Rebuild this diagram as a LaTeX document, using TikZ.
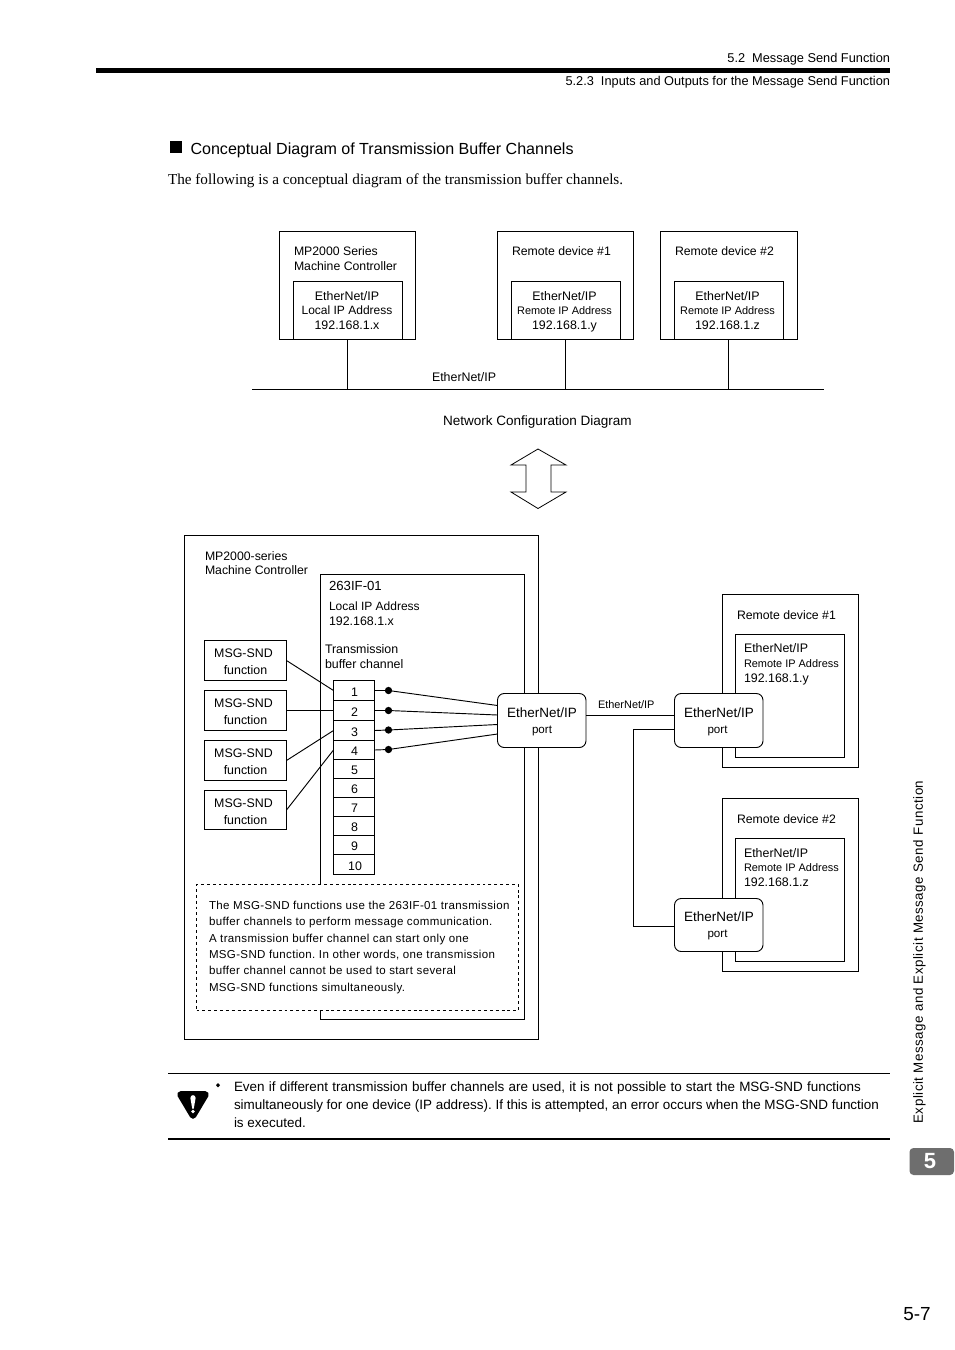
\documentclass[tikz,border=0pt]{standalone}
\usepackage{fontspec}
\setmainfont{Liberation Sans}
\newfontfamily\timesfont{Liberation Serif}
\newfontfamily\sidefont[LetterSpace=4]{Liberation Sans}
\newfontfamily\notefont[LetterSpace=3]{Liberation Sans}
\newcommand{\fsz}[1]{\fontsize{#1}{10.9}\selectfont}
\newcommand{\msgtxt}{\rule{0pt}{9pt}MSG-SND\hspace*{3pt}\\function}
\newcommand{\boxat}[7]{%
  \pgfmathsetmacro\bw{(#4-#2)*0.75}%
  \pgfmathsetmacro\bh{(#5-#3)*0.75}%
  \node[#6,minimum width=\bw pt,minimum height=\bh pt] (#1) at ({(#2+#4)/2},{(#3+#5)/2}) {#7};}
\tikzset{
  shp/.style={draw,line width=0.7pt,fill=white,inner sep=0pt,outer sep=0pt,align=center},
  msg/.style={shp,font=\fontsize{9.3}{12.8}\selectfont},
  cell/.style={shp,font=\fsz{9.3},text height=8.7pt},
  port/.style={shp,rounded corners=5pt},
  note/.style={shp,dash pattern=on 2.2pt off 2.2pt,line width=0.6pt},
  wire/.style={draw,line width=0.7pt},
  lab/.style={inner sep=0pt,outer sep=0pt,anchor=base west,font=\fsz{9.3}},
  labsm/.style={lab,font=\fsz{8.2}},
  ctr/.style={inner sep=0pt,outer sep=0pt,anchor=base,font=\fsz{9.3}},
  ctrsm/.style={ctr,font=\fsz{8.2}},
  ctrip/.style={ctr,font=\fsz{9.0}},
  portbig/.style={ctr,font=\fsz{10.1}},
  portsm/.style={ctr,font=\fsz{8.7}},
  devlab/.style={lab,font=\fsz{9.2}},
  notetxt/.style={lab,font=\notefont\fsz{8.65}},
  warn/.style={lab,font=\fsz{10.1}},
  hdr/.style={inner sep=0pt,outer sep=0pt,anchor=base east,font=\fsz{9.58}},
  dotn/.style={circle,fill=black,inner sep=0pt,minimum size=5.5pt,outer sep=0pt}
}
\begin{document}
\frenchspacing
\begin{tikzpicture}[x=0.75pt,y=-0.75pt]
\useasboundingbox (0,0) rectangle (954,1350);
\fill[white] (0,0) rectangle (954,1350);
% header
\node[hdr] (h1) at (890,62.5) {5.2\ \ Message Send Function};
\fill[black] (96,68) rectangle (890,73);
\node[hdr] (h2) at (890,85.5) {5.2.3\ \ Inputs and Outputs for the Message Send Function};
\fill[black] (170,141) rectangle (182,153);
\node[lab,font=\fsz{12.05}] (title) at (190.5,154) {Conceptual Diagram of Transmission Buffer Channels};
\node[lab,font=\timesfont\fsz{11.4}] (intro) at (168,184.5) {The following is a conceptual diagram of the transmission buffer channels.};
% network configuration
\boxat{ctrlA}{279.5}{231}{415.5}{339.5}{shp}{}
\boxat{ctrlB}{497.5}{231}{633.5}{339.5}{shp}{}
\boxat{ctrlC}{660.5}{231}{797.5}{339.5}{shp}{}
\boxat{ipA}{293}{281}{402}{339.5}{shp}{}
\boxat{ipB}{511}{281}{620}{339.5}{shp}{}
\boxat{ipC}{674}{281}{783}{339.5}{shp}{}
\node[ctr] (ipA1) at (347,300.5) {EtherNet/IP};
\node[ctrip] (ipA2) at (347,314.5) {Local IP Address};
\node[ctr] (ipA3) at (347,329.5) {192.168.1.x};
\node[ctr] (ipB1) at (564.5,300.5) {EtherNet/IP};
\node[ctrsm] (ipB2) at (564.5,314) {Remote IP Address};
\node[ctr] (ipB3) at (564.5,329.5) {192.168.1.y};
\node[ctr] (ipC1) at (727.5,300.5) {EtherNet/IP};
\node[ctrsm] (ipC2) at (727.5,314) {Remote IP Address};
\node[ctr] (ipC3) at (727.5,329.5) {192.168.1.z};
\node[devlab] (tA) at (294,255.5) {MP2000 Series};
\node[devlab] (tA2) at (294,270) {Machine Controller};
\node[devlab] (tB) at (512,255.5) {Remote device \#1};
\node[devlab] (tC) at (675,255.5) {Remote device \#2};
\coordinate (busL) at (252,389.5);
\coordinate (busR) at (824,389.5);
\draw[wire] (busL) -- (busR);
\draw[wire] (ipA.south) -- (ipA.south |- busL);
\draw[wire] (ipB.south) -- (ipB.south |- busL);
\draw[wire] (ipC.south) -- (ipC.south |- busL);
\node[lab] (busLab) at (432,381.5) {EtherNet/IP};
\node[lab,font=\fsz{10.15}] (netcap) at (443,425.5) {Network Configuration Diagram};
% double arrow
\draw[line width=0.6pt,line join=miter] (538,449) -- (511,465) -- (526,465) -- (526,492) -- (511,492) -- (538,508.5) -- (566,492) -- (551,492) -- (551,465) -- (566,465) -- cycle;
% controller
\boxat{outer}{184.5}{535.5}{538.5}{1039.5}{shp}{}
\boxat{mod}{320.5}{574.5}{524.5}{1019.5}{shp}{}
\node[devlab] (o1) at (205,560) {MP2000-series};
\node[devlab] (o2) at (205,574.5) {Machine Controller};
\node[lab,font=\fsz{9.9}] (m0) at (329,590.5) {263IF-01};
\node[lab,font=\fsz{9.0}] (m1) at (329,610) {Local IP Address};
\node[lab] (m2) at (329,625) {192.168.1.x};
\node[lab] (m3) at (325,653) {Transmission};
\node[lab] (m4) at (325,668) {buffer channel};
% channels
\boxat{c1}{333.5}{680.5}{374.5}{700.5}{cell}{\hspace*{1pt}1}
\boxat{c2}{333.5}{700.5}{374.5}{720.5}{cell}{\hspace*{1pt}2}
\boxat{c3}{333.5}{720.5}{374.5}{740.5}{cell}{\hspace*{1pt}3}
\boxat{c4}{333.5}{740.5}{374.5}{759.5}{cell}{\hspace*{1pt}4}
\boxat{c5}{333.5}{759.5}{374.5}{778.5}{cell}{\hspace*{1pt}5}
\boxat{c6}{333.5}{778.5}{374.5}{797.5}{cell}{\hspace*{1pt}6}
\boxat{c7}{333.5}{797.5}{374.5}{816.5}{cell}{\hspace*{1pt}7}
\boxat{c8}{333.5}{816.5}{374.5}{835.5}{cell}{\hspace*{1pt}8}
\boxat{c9}{333.5}{835.5}{374.5}{854.5}{cell}{\hspace*{1pt}9}
\boxat{c10}{333.5}{854.5}{374.5}{874.5}{cell}{\hspace*{1.5pt}10}
% MSG-SND
\boxat{f1}{204.5}{640.5}{286.5}{680.5}{msg}{\msgtxt}
\boxat{f2}{204.5}{690.5}{286.5}{730.5}{msg}{\msgtxt}
\boxat{f3}{204.5}{740.5}{286.5}{780.5}{msg}{\msgtxt}
\boxat{f4}{204.5}{790.5}{286.5}{829.5}{msg}{\msgtxt}
\draw[wire] (f1.east) -- (c1.west);
\draw[wire] (f2.east) -- (c2.west);
\draw[wire] (f3.east) -- (c3.west);
\draw[wire] (f4.east) -- (c4.west);
% note
\boxat{notebox}{196.5}{884.5}{518.5}{1010.5}{note}{}
\node[notetxt] (n1) at (209,909) {The MSG-SND functions use the 263IF-01 transmission};
\node[notetxt] (n2) at (209,925) {buffer channels to perform message communication.};
\node[notetxt] (n3) at (209,942) {A transmission buffer channel can start only one};
\node[notetxt] (n4) at (209,958) {MSG-SND function. In other words, one transmission};
\node[notetxt] (n5) at (209,974) {buffer channel cannot be used to start several};
\node[notetxt] (n6) at (209,991) {MSG-SND functions simultaneously.};
% remote devices
\boxat{r1}{722.5}{594.5}{858.5}{767.5}{shp}{}
\boxat{r1in}{735.5}{634.5}{844.5}{757.5}{shp}{}
\boxat{r2}{722.5}{798.5}{858.5}{971.5}{shp}{}
\boxat{r2in}{735.5}{838.5}{844.5}{961.5}{shp}{}
\node[devlab] (r1a) at (737,619.5) {Remote device \#1};
\node[lab] (r1b) at (744,652.5) {EtherNet/IP};
\node[labsm] (r1c) at (744,667) {Remote IP Address};
\node[lab] (r1d) at (744,682) {192.168.1.y};
\node[devlab] (r2a) at (737,823.5) {Remote device \#2};
\node[lab] (r2b) at (744,857.5) {EtherNet/IP};
\node[labsm] (r2c) at (744,871) {Remote IP Address};
\node[lab] (r2d) at (744,886) {192.168.1.z};
% ports
\boxat{p1}{497.5}{693.5}{586}{747.5}{port}{}
\boxat{p2}{674.5}{693.5}{763}{747.5}{port}{}
\boxat{p3}{674.5}{898.5}{763}{951.5}{port}{}
\node[portbig] (p1a) at (542,717) {EtherNet/IP};
\node[portsm] (p1b) at (542,733) {port};
\node[portbig] (p2a) at (719,717) {EtherNet/IP};
\node[portsm] (p2b) at (717.5,733) {port};
\node[portbig] (p3a) at (719,921) {EtherNet/IP};
\node[portsm] (p3b) at (717.5,937) {port};
\node[labsm] (lnk) at (598,708) {EtherNet/IP};
% connectors to dots
\node[dotn] (d1) at (388.5,690.5) {};
\node[dotn] (d2) at (388.5,710.5) {};
\node[dotn] (d3) at (388.5,730) {};
\node[dotn] (d4) at (388.5,749.5) {};
\coordinate (pi1) at (497.5,705.5);
\coordinate (pi2) at (497.5,715);
\coordinate (pi3) at (497.5,724.5);
\coordinate (pi4) at (497.5,734);
\draw[wire] (c1.east) -- (d1) -- (pi1);
\draw[wire] (c2.east) -- (d2) -- (pi2);
\draw[wire] (c3.east) -- (d3) -- (pi3);
\draw[wire] (c4.east) -- (d4) -- (pi4);
\coordinate (p1out) at (586,715.5);
\coordinate (p2in) at (674.5,715.5);
\coordinate (p2low) at (674.5,729.5);
\coordinate (turn) at (633.5,729.5);
\coordinate (p3in) at (674.5,926.5);
\draw[wire] (p1out) -- (p2in);
\draw[wire] (p2low) -- (turn) -- (turn |- p3in) -- (p3in);
% warning
\draw[line width=0.6pt] (168,1073) -- (890,1073);
\draw[line width=1.5pt] (168,1139) -- (890,1139);
\fill[black,draw=black,line width=5pt,line join=round] (180.5,1094.5) -- (205.5,1094.5) -- (193,1115.5) -- cycle;
\fill[white] (190.4,1098) .. controls (190.4,1094.2) and (195.6,1094.2) .. (195.6,1098) -- (193.8,1108.5) -- (192.2,1108.5) -- cycle;
\fill[white] (193,1111.5) circle (1.8);
\fill[black] (218,1083) -- (220,1085.2) -- (218,1087.4) -- (216,1085.2) -- cycle;
\node[warn] (w1) at (234,1091.5) {\hbox to 470.25pt{Even if different transmission buffer channels are used, it is not possible to start the MSG-SND functions}};
\node[warn] (w2) at (234,1109.5) {\hbox to 483.75pt{simultaneously for one device (IP address). If this is attempted, an error occurs when the MSG-SND function}};
\node[warn] (w3) at (234,1127.5) {is executed.};
% side
\node[inner sep=0pt,rotate=90,anchor=center,font=\sidefont\fsz{10}] (side) at (919.5,952) {Explicit Message and Explicit Message Send Function};
\fill[black!57,rounded corners=3pt] (909.5,1148) -- (954,1148) -- (954,1175) -- (909.5,1175) -- cycle;
\node[inner sep=0pt,text=white,font=\bfseries\fsz{16.5}] (tab) at (930,1161) {5};
\node[inner sep=0pt,anchor=base east,font=\fsz{14.2}] (pg) at (931,1320) {5-7};
\end{tikzpicture}
\end{document}
